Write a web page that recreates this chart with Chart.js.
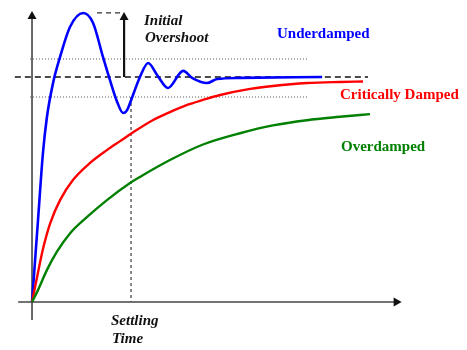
<!DOCTYPE html>
<html>
<head>
<meta charset="utf-8">
<title>Step response</title>
<script src="https://cdn.jsdelivr.net/npm/chart.js@4.4.1/dist/chart.umd.min.js"></script>
<style>
  html, body { margin: 0; padding: 0; background: #fff; }
  #wrap { width: 467px; height: 350px; }
</style>
</head>
<body>
<div id="wrap"><canvas id="myChart" width="467" height="350"></canvas></div>
<script>
// time axis (arbitrary units, settling time = 3) and response (1 = final value)
const underT = [0, 0.18, 0.33, 0.45, 0.64, 0.85, 1.15, 1.55, 1.85, 2.15, 2.36, 2.58, 2.76, 2.88, 3.06, 3.27, 3.52, 3.79, 4.12, 4.58, 4.85, 5.30, 5.61, 6.30, 8.79];
const underY = [0, 0.36, 0.66, 0.82, 0.975, 1.089, 1.222, 1.284, 1.240, 1.089, 0.987, 0.889, 0.84, 0.853, 0.92, 1.0, 1.062, 1.009, 0.951, 1.027, 0.996, 0.973, 0.991, 0.996, 1.0];

const critT = [0, 0.18, 0.33, 0.55, 0.85, 1.24, 1.76, 2.27, 2.67, 3.03, 3.67, 4.18, 4.70, 5.18, 5.70, 6.61, 7.30, 8.33, 9.33, 10.03];
const critY = [0, 0.13, 0.235, 0.35, 0.453, 0.542, 0.618, 0.675, 0.715, 0.751, 0.809, 0.844, 0.876, 0.898, 0.92, 0.947, 0.96, 0.973, 0.978, 0.98];

const overT = [0, 0.18, 0.45, 0.76, 1.15, 1.67, 2.27, 2.97, 3.27, 4.18, 5.18, 6.30, 7.30, 8.33, 9.33, 10.24];
const overY = [0, 0.053, 0.142, 0.225, 0.305, 0.378, 0.453, 0.529, 0.556, 0.631, 0.70, 0.75, 0.785, 0.808, 0.823, 0.835];

const finalValue = 1.0;
const bandHigh = 1.08;
const bandLow = 0.911;
const peakValue = 1.289;
const settlingTime = 3.0;

function toPoints(xs, ys) {
  return xs.map((x, i) => ({ x: x, y: ys[i] }));
}

function line(ctx, x1, y1, x2, y2, color, width, dash) {
  ctx.save();
  ctx.strokeStyle = color;
  ctx.lineWidth = width;
  ctx.setLineDash(dash || []);
  ctx.beginPath();
  ctx.moveTo(x1, y1);
  ctx.lineTo(x2, y2);
  ctx.stroke();
  ctx.restore();
}

function arrowHead(ctx, x, y, dir, color) {
  // dir: "up" or "right", (x, y) is the tip
  ctx.save();
  ctx.fillStyle = color;
  ctx.beginPath();
  if (dir === "up") {
    ctx.moveTo(x, y);
    ctx.lineTo(x - 4.5, y + 8);
    ctx.lineTo(x + 4.5, y + 8);
  } else {
    ctx.moveTo(x, y);
    ctx.lineTo(x - 8, y - 4.5);
    ctx.lineTo(x - 8, y + 4.5);
  }
  ctx.closePath();
  ctx.fill();
  ctx.restore();
}

// guide lines behind the curves, labels on top
const guides = {
  id: "guides",
  beforeDatasetsDraw(chart) {
    const ctx = chart.ctx;
    const xs = chart.scales.x;
    const ys = chart.scales.y;
    const px = (v) => xs.getPixelForValue(v);
    const py = (v) => ys.getPixelForValue(v);

    // tolerance band
    line(ctx, px(-0.06), py(bandHigh), px(8.36), py(bandHigh), "#555", 1, [1, 2]);
    line(ctx, px(-0.06), py(bandLow), px(8.36), py(bandLow), "#555", 1, [1, 2]);
    // final value
    line(ctx, px(-0.52), py(finalValue), px(10.18), py(finalValue), "#111", 1.5, [6, 4]);
    // settling time
    line(ctx, px(settlingTime), py(bandLow), px(settlingTime), py(0), "#111", 1, [3, 3]);
    // peak level
    line(ctx, px(1.97), py(peakValue) + 1, px(2.76), py(peakValue) + 1, "#333", 1.3, [5, 4]);

    // axes
    line(ctx, px(0), py(-0.08), px(0), py(peakValue) + 6, "#444", 1.6);
    arrowHead(ctx, px(0), py(peakValue) - 1, "up", "#111");
    line(ctx, px(-0.42), py(0), px(11.0), py(0), "#444", 1.6);
    arrowHead(ctx, px(11.2), py(0), "right", "#111");
  },
  afterDatasetsDraw(chart) {
    const ctx = chart.ctx;
    const xs = chart.scales.x;
    const ys = chart.scales.y;
    const px = (v) => xs.getPixelForValue(v);
    const py = (v) => ys.getPixelForValue(v);

    // overshoot arrow
    line(ctx, px(2.79), py(finalValue), px(2.79), py(peakValue) + 6, "#111", 2.2);
    arrowHead(ctx, px(2.79), py(peakValue), "up", "#111");

    ctx.save();
    ctx.textBaseline = "alphabetic";
    ctx.textAlign = "left";
    ctx.font = "italic bold 15px 'Liberation Serif', 'Times New Roman', serif";
    ctx.fillStyle = "#111";
    ctx.fillText("Initial", 144, 25);
    ctx.fillText("Overshoot", 145, 42);
    ctx.fillText("Settling", 111, 325);
    ctx.fillText("Time", 112, 343);

    ctx.font = "bold 15px 'Liberation Serif', 'Times New Roman', serif";
    ctx.fillStyle = "#0000ff";
    ctx.fillText("Underdamped", 277, 38);
    ctx.fillStyle = "#ff0000";
    ctx.fillText("Critically Damped", 340, 99);
    ctx.fillStyle = "#008000";
    ctx.fillText("Overdamped", 341, 151);
    ctx.restore();
  }
};

const ctx = document.getElementById("myChart").getContext("2d");
const myChart = new Chart(ctx, {
  type: "line",
  data: {
    datasets: [
      {
        label: "Overdamped",
        data: toPoints(overT, overY),
        borderColor: "#008000",
        borderWidth: 2.4,
        pointRadius: 0,
        cubicInterpolationMode: "monotone",
      },
      {
        label: "Critically Damped",
        data: toPoints(critT, critY),
        borderColor: "#ff0000",
        borderWidth: 2.4,
        pointRadius: 0,
        cubicInterpolationMode: "monotone",
      },
      {
        label: "Underdamped",
        data: toPoints(underT, underY),
        borderColor: "#0000ff",
        borderWidth: 2.6,
        pointRadius: 0,
        cubicInterpolationMode: "monotone",
      },
    ],
  },
  options: {
    responsive: false,
    animation: false,
    layout: { padding: 0 },
    plugins: {
      legend: { display: false },
      tooltip: { enabled: false },
    },
    scales: {
      x: { type: "linear", min: -0.97, max: 13.18, display: false },
      y: { type: "linear", min: -0.213, max: 1.342, display: false },
    },
  },
  plugins: [guides],
});
</script>
</body>
</html>
